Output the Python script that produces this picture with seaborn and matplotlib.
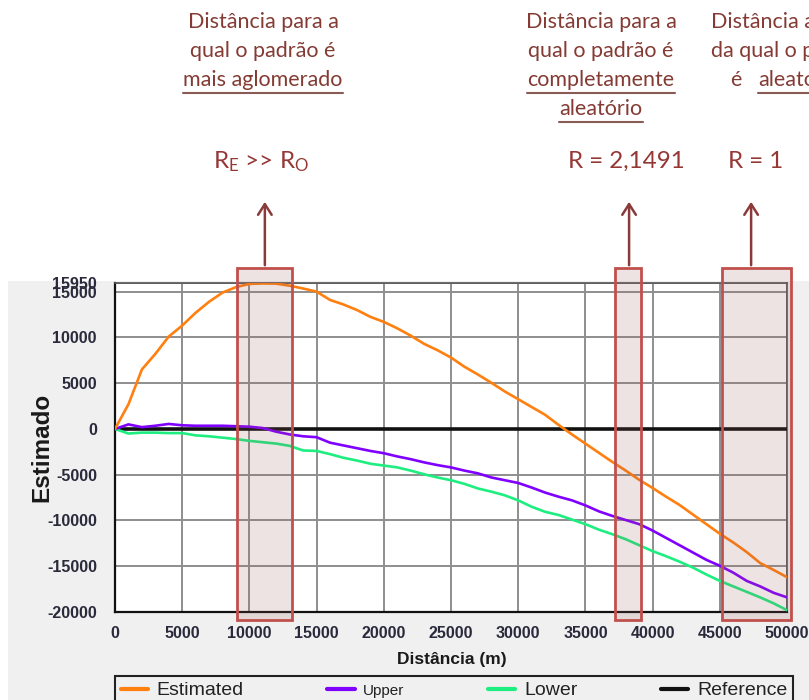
import matplotlib
matplotlib.use("Agg")
import matplotlib.pyplot as plt
import matplotlib.transforms as mtransforms
from matplotlib.patches import Rectangle, FancyArrowPatch
from matplotlib.lines import Line2D
from matplotlib.ticker import MultipleLocator, FixedLocator
import pandas as pd
import seaborn as sns

# ---------------- data ----------------
DIST = [0, 1000, 2000, 3000, 4000, 5000, 6000, 7000, 8000, 9000,
        10000, 11000, 12000, 13000, 14000, 15000, 16000, 17000, 18000, 19000,
        20000, 21000, 22000, 23000, 24000, 25000, 26000, 27000, 28000, 29000,
        30000, 31000, 32000, 33000, 34000, 35000, 36000, 37000, 38000, 39000,
        40000, 41000, 42000, 43000, 44000, 45000, 46000, 47000, 48000, 49000, 50000]
ESTIMATED = [0, 2700, 6500, 8200, 10100, 11300, 12700, 13900, 14900, 15500,
             15850, 15900, 15880, 15650, 15350, 15000, 14100, 13600, 13000, 12250,
             11700, 11000, 10200, 9300, 8600, 7800, 6800, 5950, 5050, 4100,
             3250, 2400, 1550, 450, -600, -1600, -2600, -3600, -4550, -5550,
             -6450, -7400, -8300, -9350, -10400, -11450, -12400, -13450, -14650, -15400, -16200]
UPPER = [0, 500, 200, 350, 550, 400, 350, 350, 350, 300,
         250, 100, -300, -600, -800, -900, -1500, -1800, -2100, -2400,
         -2650, -3000, -3300, -3650, -3950, -4200, -4550, -4850, -5300, -5600,
         -5900, -6400, -6950, -7400, -7800, -8350, -9000, -9500, -9950, -10400,
         -11100, -11900, -12700, -13500, -14300, -14950, -15700, -16600, -17200, -17900, -18400]
LOWER = [0, -500, -400, -400, -450, -450, -700, -800, -950, -1100,
         -1300, -1450, -1600, -1850, -2350, -2400, -2750, -3150, -3450, -3800,
         -4000, -4200, -4550, -4950, -5300, -5600, -6000, -6500, -6850, -7250,
         -7800, -8500, -9050, -9400, -9900, -10400, -11000, -11500, -12050, -12700,
         -13350, -13900, -14500, -15150, -15900, -16600, -17200, -17800, -18400, -19050, -19800]
REF_X = [0, 50000]
REFERENCE = [0, 0]

SERIES = ["Estimated", "Upper", "Lower", "Reference"]
COLORS = ["#ff7f0f", "#8000ff", "#1eee80", "#111111"]

X_TICKS = [0, 5000, 10000, 15000, 20000, 25000, 30000, 35000, 40000, 45000, 50000]
Y_TICKS = [-20000, -15000, -10000, -5000, 0, 5000, 10000, 15000]
Y_TOP = 15950
X_LABEL = "Distância (m)"
Y_LABEL = "Estimado"

# highlighted distance bands (data x) and arrow positions
BANDS = [(9100, 13150), (37200, 39150), (45200, 50300)]
ARROW_X = [11150, 38250, 47330]

NOTE1 = ["Distância para a", "qual o padrão é", "mais aglomerado"]
NOTE2 = ["Distância para a", "qual o padrão é", "completamente", "aleatório"]
NOTE3 = ["Distância a partir", "da qual o padrão"]
R1 = r"$\mathregular{R_E}$ >> $\mathregular{R_O}$"
R2 = "R = 2,1491"
R3 = "R = 1"

# ---------------- figure ----------------
sns.set_style("white")
plt.rcParams["font.family"] = ["Liberation Sans", "DejaVu Sans"]

W, H = 809, 700
fig = plt.figure(figsize=(W / 100, H / 100), dpi=100)
fig.patch.set_facecolor("white")

def fx(x):
    return x / W

def fy(y):
    return 1 - y / H

# grey panel behind chart
fig.patches.append(Rectangle((fx(8), 0), 1 - fx(8), fy(281), transform=fig.transFigure,
                             facecolor="#f0f0f0", edgecolor="none", zorder=-10))

ax = fig.add_axes([fx(115), fy(612), fx(787) - fx(115), (612 - 283) / H])
ax.set_facecolor("white")

df = pd.concat([
    pd.DataFrame({"Distância": DIST, "Valor": ESTIMATED, "Série": "Estimated"}),
    pd.DataFrame({"Distância": DIST, "Valor": UPPER, "Série": "Upper"}),
    pd.DataFrame({"Distância": DIST, "Valor": LOWER, "Série": "Lower"}),
    pd.DataFrame({"Distância": REF_X, "Valor": REFERENCE, "Série": "Reference"}),
])

pal = dict(zip(SERIES, COLORS))
for name in ["Reference", "Lower", "Upper", "Estimated"]:
    sub = df[df["Série"] == name]
    sns.lineplot(data=sub, x="Distância", y="Valor", color=pal[name], ax=ax,
                 lw=2.6 if name == "Reference" else 1.9, legend=False,
                 zorder=3 if name == "Reference" else 4)

ax.set_xlim(0, 50000)
ax.set_ylim(-20000, Y_TOP)
ax.xaxis.set_major_locator(FixedLocator(X_TICKS))
ax.yaxis.set_major_locator(FixedLocator(Y_TICKS + [Y_TOP]))
ax.xaxis.set_minor_locator(MultipleLocator(1000))
ax.yaxis.set_minor_locator(MultipleLocator(1000))
ax.set_xticklabels([str(v) for v in X_TICKS])
ax.set_yticklabels([str(v) for v in Y_TICKS] + [str(Y_TOP)])

ax.grid(True, which="major", color="#8e8e8e", lw=1.4, zorder=1)
ax.set_axisbelow(True)
for s in ["top", "right"]:
    ax.spines[s].set_color("#555555")
    ax.spines[s].set_linewidth(1.2)
for s in ["left", "bottom"]:
    ax.spines[s].set_color("#111111")
    ax.spines[s].set_linewidth(1.6)

ax.tick_params(axis="both", which="both", direction="out", color="#111111",
               labelsize=11.5, labelcolor="#2a2a3c", pad=2)
ax.tick_params(axis="y", which="major", length=11, width=1.5)
ax.tick_params(axis="y", which="minor", length=5, width=1.2)
ax.tick_params(axis="x", which="major", length=8, width=1.5)
ax.tick_params(axis="x", which="minor", length=5, width=1.2)
for lab in ax.get_xticklabels() + ax.get_yticklabels():
    lab.set_fontweight("bold")

ax.set_xlabel(X_LABEL, fontsize=12.5, fontweight="bold", color="#1a1a1a")
ax.set_ylabel(Y_LABEL, fontsize=17.5, fontweight="bold", color="#1a1a1a")
ax.xaxis.set_label_coords(0.5015, -(652 - 612) / 329)
ax.yaxis.set_label_coords((53 - 115) / 672, 0.5)

# legend
handles = [Line2D([], [], color=c, lw=3) for c in COLORS]
leg = fig.legend(handles, SERIES, loc="upper left",
                 bbox_to_anchor=(fx(115), fy(676), fx(793) - fx(115), 0),
                 mode="expand", ncol=4, fontsize=14, frameon=True, fancybox=False,
                 edgecolor="#222222", facecolor="#f0f0f0", framealpha=1,
                 handlelength=1.4, handletextpad=0.45, borderpad=0.3, borderaxespad=0)
leg.get_frame().set_linewidth(1.5)
leg.get_texts()[1].set_fontsize(11)
for t in leg.get_texts():
    t.set_color("#222222")

# highlight bands (x in data, y in figure pixels)
blend = mtransforms.blended_transform_factory(ax.transData, fig.transFigure)
for x0, x1 in BANDS:
    fig.add_artist(Rectangle((x0, fy(620)), x1 - x0, fy(268) - fy(620), transform=blend,
                             facecolor=(0.62, 0.35, 0.35, 0.17), edgecolor="#c0504d",
                             lw=2, zorder=6))

# arrows
ARROW_C = "#8b3a3a"
for xa in ARROW_X:
    xf = ax.transData.transform((xa, 0))[0] / fig.bbox.width
    fig.add_artist(FancyArrowPatch((xf, fy(268)), (xf, fy(199)), transform=fig.transFigure,
                                   arrowstyle="->,head_length=0.55,head_width=0.35",
                                   mutation_scale=14, color=ARROW_C, lw=1.8, zorder=7))

# annotation texts
TXT_C = "#843b34"
R_C = "#953735"
renderer = fig.canvas.get_renderer()
probe = fig.text(0, 0, NOTE1[0], family=["Lato", "DejaVu Sans"], fontsize=14)
w = probe.get_window_extent(renderer).width
probe.remove()
note_size = 14 * 151 / w

def note(x, y, s, ha="center", underline=False, size=None, color=TXT_C):
    t = fig.text(fx(x), fy(y), s, ha=ha, va="baseline", family=["Lato", "DejaVu Sans"],
                 fontsize=size or note_size, color=color)
    if underline:
        bb = t.get_window_extent(renderer)
        fig.add_artist(Line2D([bb.x0 / W, bb.x1 / W], [fy(y + 7), fy(y + 7)],
                              transform=fig.transFigure, color="#8a5a55", lw=1.5))
    return t

base = [28, 57, 86, 115]
for i, s in enumerate(NOTE1):
    note(263, base[i], s, underline=(i == 2))
for i, s in enumerate(NOTE2):
    note(601, base[i], s, underline=(i >= 2))
for i, s in enumerate(NOTE3):
    note(711, base[i], s, ha="left")
note(730, base[2], "é", ha="left")
note(758, base[2], "aleatório", ha="left", underline=True)

plt.rcParams["mathtext.default"] = "regular"
note(261, 168, R1, size=note_size * 1.12, color=R_C)
note(626, 168, R2, size=note_size * 1.12, color=R_C)
note(756, 168, R3, size=note_size * 1.12, color=R_C)

fig.savefig("out.png", dpi=100)
